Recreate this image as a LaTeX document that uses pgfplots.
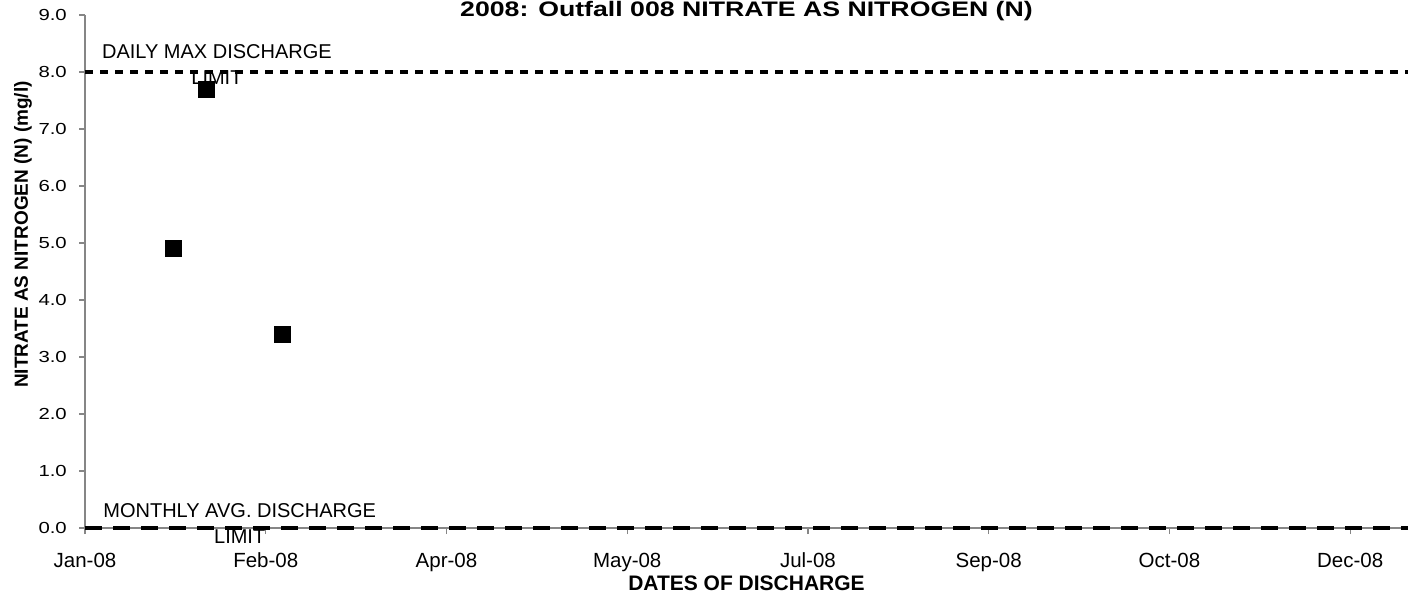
\documentclass[border=0pt]{standalone}
\usepackage{pgfplots}
\pgfplotsset{compat=1.18}
\usepackage{fontspec}
\setmainfont{Liberation Sans}
\newfontfamily\stretchfont{Liberation Sans}[FakeStretch=1.27]
\definecolor{axisgray}{HTML}{868686}
\begin{document}
\begin{tikzpicture}
\begin{axis}[
  scale only axis, width=1323bp, height=513bp,
  xmin=0, xmax=366, ymin=0, ymax=9,
  axis x line*=bottom, axis y line*=left,
  axis line style={draw=axisgray, line width=1.2bp},
  every tick/.style={draw=axisgray, line width=1.2bp},
  tick align=outside, major tick length=6bp,
  clip=false,
  xtick={0,50,100,150,200,250,300,350},
  xticklabels={Jan-08,Feb-08,Apr-08,May-08,Jul-08,Sep-08,Oct-08,Dec-08},
  ytick={0,1,2,3,4,5,6,7,8,9},
  xticklabel style={font=\fontsize{20.5bp}{24bp}\selectfont, anchor=base, inner sep=0pt, yshift=-33bp},
  yticklabel style={font=\fontsize{16bp}{19bp}\selectfont\stretchfont, anchor=east, inner sep=0pt, xshift=-12bp,
    /pgf/number format/.cd, fixed, fixed zerofill, precision=1, assume math mode=true},
]
\addplot[black, line width=3.5bp, dash pattern=on 8bp off 7bp] coordinates {(0,8) (366,8)};
\addplot[black, line width=3.5bp, dash pattern=on 17bp off 11bp] coordinates {(0,0) (366,0)};
\addplot[only marks, mark=square*, mark size=8bp, black] table {
x y
24.3 4.9
33.5 7.7
54.5 3.4
};
\node[align=center, font=\fontsize{20bp}{26bp}\selectfont] at (axis cs:36.5,8.13) {DAILY MAX DISCHARGE\\LIMIT};
\node[align=center, font=\fontsize{20bp}{26bp}\selectfont] at (axis cs:42.8,0.07) {MONTHLY AVG. DISCHARGE\\LIMIT};
\node[anchor=base, font=\fontsize{21bp}{25bp}\selectfont\stretchfont\bfseries] at ([yshift=-1.7bp]rel axis cs:0.5,1) {2008: Outfall 008 NITRATE AS NITROGEN (N)};
\node[anchor=base, font=\fontsize{21bp}{25bp}\selectfont\bfseries] at ([yshift=-62bp]rel axis cs:0.5,0) {DATES OF DISCHARGE};
\node[anchor=base, rotate=90, font=\fontsize{19bp}{23bp}\selectfont\bfseries] at ([xshift=-57bp]rel axis cs:0,0.572) {NITRATE AS NITROGEN (N) (mg/l)};
\end{axis}
\pgfresetboundingbox
\path[use as bounding box] ([shift={(-85bp,-70bp)}]current axis.south west) rectangle ([shift={(11bp,15bp)}]current axis.north east);
\end{tikzpicture}
\end{document}
